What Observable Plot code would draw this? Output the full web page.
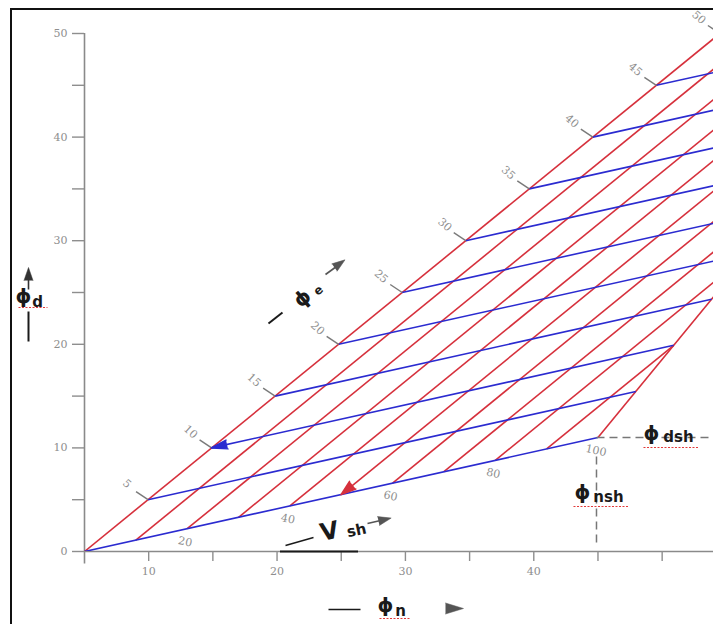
<!DOCTYPE html>
<html><head><meta charset="utf-8">
<script src="https://cdn.jsdelivr.net/npm/d3@7"></script>
<script src="https://cdn.jsdelivr.net/npm/@observablehq/plot@0.6"></script>
<style>
body{margin:0;background:#fff;}
#wrap{position:relative;width:713px;height:624px;overflow:hidden;background:#fff;}
#wrap svg{display:block;}
#border{position:absolute;left:10px;top:8px;width:760px;height:700px;border-top:2px solid #111;border-left:2px solid #111;pointer-events:none;}
</style></head><body><div id="wrap"><div id="border"></div></div>
<script>
// Chart parameters
const cleanOrigin = 5;          // phi_n at phi_d = 0 on the clean line
const cleanTop = 54.5;          // phi_n at phi_d = 50 on the clean line
const phiNsh = 45;              // shale point, neutron
const phiDsh = 11;              // shale point, density
const phiEValues = [0, 5, 10, 15, 20, 25, 30, 35, 40, 45];          // blue lines (constant phi_e)
const vshValues = [0, 0.1, 0.2, 0.3, 0.4, 0.5, 0.6, 0.7, 0.8, 0.9];  // red lines (constant Vsh)
const cleanTickValues = [5, 10, 15, 20, 25, 30, 35, 40, 45, 50];
const vshTickValues = [20, 40, 60, 80, 100];
const xTickValues = [10, 15, 20, 25, 30, 35, 40, 45, 50];
const xLabelValues = [10, 20, 30, 40];
const yTickValues = [0, 5, 10, 15, 20, 25, 30, 35, 40, 45, 50];
const yLabelValues = [0, 10, 20, 30, 40, 50];

const pt = (pe, v) => [cleanOrigin + pe * (cleanTop - cleanOrigin) / 50 + v * (phiNsh - cleanOrigin), pe + v * phiDsh];
const seg = (a, b) => ({x1: a[0], y1: a[1], x2: b[0], y2: b[1]});

const redSegs = vshValues.map(v => seg(pt(0, v), pt(v === 0 ? 50 : 100 * (1 - v), v)));
redSegs.push(seg(pt(0, 1), pt(50, 0.5)));
const blueSegs = phiEValues.map(pe => seg(pt(pe, 0), pt(pe, 1 - pe / 100)));

// pixel-to-data helpers for annotation placement
const X = px => 5 + (px - 84) / 12.837;
const Y = py => (551 - py) / 10.36;

const red = "#d6303c", blue = "#2b2bd0", gray = "#8e8e8e", ink = "#1a1a1a";
const F = "DejaVu Sans";

const T = (s, px, py, o = {}) => Plot.text([s], {x: X(px), y: Y(py), text: d => d, fontFamily: F, fontWeight: "bold", fill: ink, fontSize: 20, ...o});
const L = (a, b, c, d, o = {}) => Plot.link([0], {x1: X(a), y1: Y(b), x2: X(c), y2: Y(d), stroke: ink, strokeWidth: 1.6, ...o});
const H = (px, py, rot, o = {}) => Plot.vector([0], {x: X(px), y: Y(py), rotate: rot, length: 13, r: 4.5, shape: "spike", anchor: "start", fill: "#444", stroke: "#444", fillOpacity: 1, strokeWidth: 0.5, ...o});
const squiggle = (a, b, py) => L(a, py, b, py, {stroke: "#e23a3a", strokeWidth: 1.2, strokeDasharray: "2,1.5"});

const chart = Plot.plot({
  width: 713, height: 624,
  marginLeft: 84, marginRight: 0, marginTop: 33, marginBottom: 73,
  x: {domain: [5, 54]},
  y: {domain: [0, 50]},
  style: {background: "transparent"},
  marks: [
    // axes
    Plot.ruleX([5], {y1: -1.2, y2: 50, stroke: "#8a8a8a", strokeWidth: 1.6}),
    Plot.ruleY([0], {x1: 5, x2: 54, stroke: "#8a8a8a", strokeWidth: 1.6}),
    Plot.axisY(yTickValues, {tickSize: 12, tickPadding: 5, tickFormat: d => yLabelValues.includes(d) ? String(d) : "", color: gray, fontFamily: "DejaVu Serif", fontSize: 11, strokeWidth: 1.4}),
    Plot.axisX(xTickValues, {tickSize: 10, tickPadding: 6, tickFormat: d => xLabelValues.includes(d) ? String(d) : "", color: gray, fontFamily: "DejaVu Serif", fontSize: 11, strokeWidth: 1.4}),
    Plot.ruleY([0], {x1: X(280), x2: X(358), stroke: ink, strokeWidth: 2}),
    // grid of the chart
    Plot.link(redSegs, {x1: "x1", y1: "y1", x2: "x2", y2: "y2", stroke: red, strokeWidth: 1.6, clip: true}),
    Plot.link(blueSegs, {x1: "x1", y1: "y1", x2: "x2", y2: "y2", stroke: blue, strokeWidth: 1.6, clip: true}),
    // clean-line ticks and labels
    Plot.link(cleanTickValues, {x1: d => pt(d, 0)[0], y1: d => pt(d, 0)[1], x2: d => pt(d, 0)[0] - 12 / 12.837, y2: d => pt(d, 0)[1] + 8 / 10.36, stroke: "#7a7a7a", strokeWidth: 1.4}),
    Plot.text(cleanTickValues, {x: d => pt(d, 0)[0], y: d => pt(d, 0)[1], dx: -21, dy: -16, rotate: 42, text: d => String(d), fill: gray, fontFamily: "DejaVu Serif", fontSize: 11}),
    // Vsh labels along the shale line
    Plot.text(vshTickValues, {x: d => pt(0, d / 100)[0], y: d => pt(0, d / 100)[1], dx: -2, dy: 13, rotate: 12, text: d => String(d), fill: gray, fontFamily: "DejaVu Serif", fontSize: 11}),
    // arrows on the grid
    Plot.vector([0], {x: pt(0.9, 0.5)[0], y: pt(0.9, 0.5)[1], rotate: 231, length: 15, r: 5, shape: "spike", anchor: "start", fill: red, stroke: red, fillOpacity: 1}),
    Plot.vector([0], {x: pt(10, 0.03)[0], y: pt(10, 0.03)[1], rotate: 257.5, length: 16, r: 4.5, shape: "spike", anchor: "start", fill: blue, stroke: blue, fillOpacity: 1}),
    // shale-point dashed guides
    L(596, 437, 713, 437, {stroke: "#777", strokeWidth: 1.5, strokeDasharray: "8,5"}),
    L(596, 456, 596, 546, {stroke: "#777", strokeWidth: 1.5, strokeDasharray: "8,5"}),
    // phi_d
    L(28, 289, 28, 277, {stroke: "#333"}), H(28, 280, 0, {fill: "#333", stroke: "#333"}),
    L(28, 311, 28, 341, {strokeWidth: 2}),
    T("ϕ", 23, 296), T("d", 37, 302, {fontSize: 15}), squiggle(18, 47, 307),
    // phi_e
    L(268, 323, 282, 312, {strokeWidth: 2}),
    T("ϕ", 302, 298, {rotate: -40}), T("e", 318, 290, {rotate: -40, fontSize: 12}),
    L(325, 274, 336, 266, {stroke: "#555"}), H(334, 267, 54, {fill: "#555", stroke: "#555"}),
    // V_sh
    L(285, 545, 313, 537, {strokeWidth: 1.5}),
    T("V", 329, 531, {fontSize: 24, rotate: -12}), T("sh", 356, 530, {fontSize: 15, rotate: -12}),
    L(367, 523, 380, 520, {stroke: "#555"}), H(378, 520.5, 77, {fill: "#555", stroke: "#555"}),
    // phi_n
    L(328, 609, 360, 609, {strokeWidth: 1.5}),
    T("ϕ", 385, 605), T("n", 400, 611, {fontSize: 15}), squiggle(379, 410, 618),
    H(445, 608, 90, {length: 18, r: 5.5, fill: "#555", stroke: "#555"}),
    // phi_dsh, phi_nsh
    T("ϕ", 651, 433), T("dsh", 678, 437, {fontSize: 15}), squiggle(643, 698, 447),
    T("ϕ", 582, 492), T("nsh", 608, 497, {fontSize: 15}), squiggle(573, 628, 506)
  ]
});
document.getElementById("wrap").prepend(chart);
</script>
</body></html>
